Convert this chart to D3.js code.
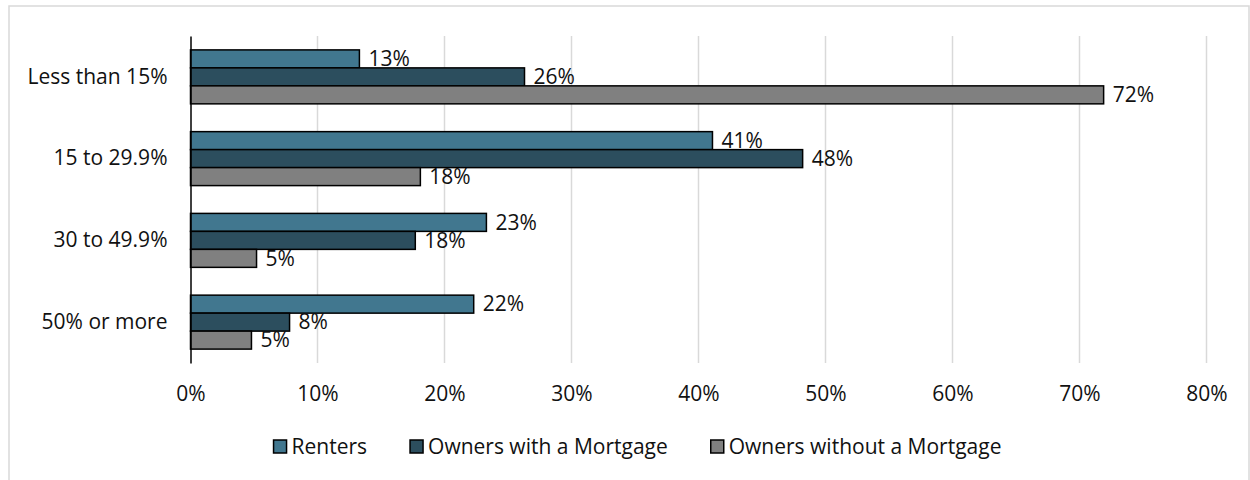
<!DOCTYPE html>
<html><head><meta charset="utf-8">
<script src="https://cdn.jsdelivr.net/npm/d3@7"></script>
<style>body{margin:0;background:#fff}svg{display:block}text{font-family:"Open Sans",sans-serif;fill:#111}</style>
</head><body><svg id="c" width="1250" height="480"></svg>
<script>
const categories = ["Less than 15%", "15 to 29.9%", "30 to 49.9%", "50% or more"];
const seriesNames = ["Renters", "Owners with a Mortgage", "Owners without a Mortgage"];
const renters = [13.3, 41.1, 23.3, 22.3];
const ownersMortgage = [26.3, 48.2, 17.7, 7.8];
const ownersNoMortgage = [71.9, 18.1, 5.2, 4.8];
const xTicks = [0, 10, 20, 30, 40, 50, 60, 70, 80];
const colors = ["#41778f", "#2c4e5e", "#808080"];
const seriesValues = [renters, ownersMortgage, ownersNoMortgage];

(function () {
const svg = d3.select("#c");
const FS = 21;
svg.append("rect").attr("x", 9).attr("y", 6).attr("width", 1240).attr("height", 480)
  .attr("fill", "#fff").attr("stroke", "#d9d9d9").attr("stroke-width", 1.5);

const pl = 190.5, pr = 1206.5, pt = 36, pb = 363;
const x = d3.scaleLinear().domain([0, 80]).range([pl, pr]);
const y = d3.scaleBand().domain(categories).range([pt, pb]).paddingInner(0.34).paddingOuter(0.17);
const ys = d3.scaleBand().domain(seriesNames).range([0, y.bandwidth()]);

svg.append("g").selectAll("line").data(xTicks.slice(1)).join("line")
  .attr("x1", d => x(d)).attr("x2", d => x(d)).attr("y1", pt).attr("y2", pb)
  .attr("stroke", "#d9d9d9").attr("stroke-width", 1.5);

const xa = svg.append("g").attr("transform", `translate(0,${pb})`)
  .call(d3.axisBottom(x).tickValues(xTicks).tickFormat(d => d + "%").tickSize(0).tickPadding(23));
xa.select(".domain").remove();
xa.selectAll("text").attr("font-size", FS).attr("font-family", "Open Sans").attr("fill", "#111");

seriesValues.forEach((vals, si) => {
  const g = svg.append("g");
  g.selectAll("rect").data(vals).join("rect")
    .attr("x", x(0)).attr("y", (d, i) => y(categories[i]) + ys(seriesNames[si]))
    .attr("width", d => x(d) - x(0)).attr("height", ys.bandwidth())
    .attr("fill", colors[si]).attr("stroke", "#000").attr("stroke-width", 1.5);
  g.selectAll("text").data(vals).join("text")
    .attr("x", d => x(d) + 9).attr("y", (d, i) => y(categories[i]) + ys(seriesNames[si]) + ys.bandwidth() / 2)
    .attr("dy", "0.35em").attr("font-size", FS).text(d => Math.round(d) + "%");
});

const ya = svg.append("g").attr("transform", `translate(${pl},0)`)
  .call(d3.axisLeft(y).tickSize(0).tickPadding(23));
ya.select(".domain").attr("stroke", "#000").attr("stroke-width", 1.5);
ya.selectAll("text").attr("font-size", FS).attr("font-family", "Open Sans").attr("fill", "#111");

const lg = svg.append("g");
const items = lg.selectAll("g").data(seriesNames).join("g");
items.append("rect").attr("width", 13).attr("height", 13).attr("y", -7)
  .attr("fill", (d, i) => colors[i]).attr("stroke", "#000").attr("stroke-width", 1.5);
items.append("text").attr("x", 18).attr("dy", "0.35em").attr("font-size", FS).text(d => d);
let cx = 0; const pos = [];
items.each(function () {
  pos.push(cx);
  cx += 18 + this.querySelector("text").getComputedTextLength() + 43;
});
const total = cx - 43;
const start = 637.5 - total / 2;
items.attr("transform", (d, i) => `translate(${start + pos[i]},447)`);
})();
</script></body></html>
